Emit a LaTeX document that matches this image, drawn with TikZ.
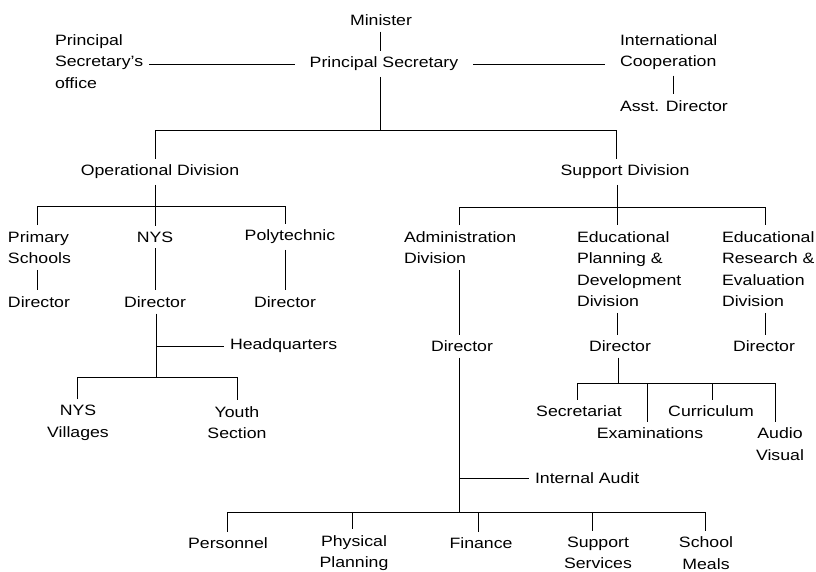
\documentclass[tikz,border=0pt]{standalone}
\usepackage{fontspec}
\setmainfont{Liberation Sans}[FakeStretch=1.18]
\begin{document}
\begin{tikzpicture}[x=1pt,y=-1pt,
  lbl/.style={inner sep=3pt, outer sep=3pt, font=\fontsize{15}{21.5}\selectfont},
  lblL/.style={lbl, align=left, anchor=west},
  lblC/.style={lbl, align=center},
  conn/.style={draw=black, line width=0.8pt}]
\useasboundingbox (0,0) rectangle (816,571);
% top level
\node[lblC] (min) at (381,20) {Minister};
\node[lblC] (ps) at (384,64) {Principal Secretary};
\node[lblL] (pso) at (49,61.5) {Principal\\Secretary's\\office};
\node[lblL] (ic) at (614,52) {International\\Cooperation};
\node[lblL] (asd) at (614,106) {Asst. Director};
% divisions
\node[lblC] (opd) at (160,172) {Operational Division};
\node[lblC] (spd) at (625,172) {Support Division};
% operational
\node[lblL] (ps1) at (2,247.5) {Primary\\Schools};
\node[lblC] (nys) at (155,237) {NYS};
\node[lblC] (poly) at (290,237) {Polytechnic};
\node[lblL] (dir1) at (2,302) {Director};
\node[lblC] (dir2) at (155,302) {Director};
\node[lblC] (dir3) at (285,302) {Director};
\node[lblL] (hq) at (224,346) {Headquarters};
\node[lblC] (nysv) at (78,423) {NYS\\Villages};
\node[lblC] (ys) at (237,422.5) {Youth\\Section};
% support
\node[lblL] (adm) at (398,247.5) {Administration\\Division};
\node[lblL] (epd) at (571,269) {Educational\\Planning \&\\Development\\Division};
\node[lblL] (erd) at (716,269) {Educational\\Research \&\\Evaluation\\Division};
\node[lblC] (dadm) at (462,346) {Director};
\node[lblC] (dep) at (620,346) {Director};
\node[lblC] (der) at (764,346) {Director};
\node[lblC] (sec) at (579,411) {Secretariat};
\node[lblC] (cur) at (711,411) {Curriculum};
\node[lblC] (exa) at (650,433) {Examinations};
\node[lblC] (av) at (780,444) {Audio\\Visual};
\node[lblL] (ia) at (529,478) {Internal Audit};
\node[lblC] (per) at (228,543) {Personnel};
\node[lblC] (phy) at (354,553) {Physical\\Planning};
\node[lblC] (fin) at (481,543) {Finance};
\node[lblC] (sup) at (598,553) {Support\\Services};
\node[lblC] (sch) at (706,553) {School\\Meals};
% junction coordinates
\coordinate (t1) at (380,130);
\coordinate (bL) at (155,130);
\coordinate (bR) at (616,130);
\coordinate (jo) at (155,206);
\coordinate (oa) at (37,206);
\coordinate (oc) at (285,206);
\coordinate (jn) at (156,377);
\coordinate (na) at (77,377);
\coordinate (nb) at (237,377);
\coordinate (js) at (617,207);
\coordinate (sa) at (459,207);
\coordinate (sc) at (765,207);
\coordinate (je) at (618,383);
\coordinate (ea) at (577,383);
\coordinate (eb) at (647,383);
\coordinate (ec) at (712,383);
\coordinate (ed) at (775,383);
\coordinate (ja) at (459,512);
\coordinate (ka) at (227,512);
\coordinate (kb) at (352,512);
\coordinate (kc) at (478,512);
\coordinate (kd) at (592,512);
\coordinate (ke) at (705,512);
\coordinate (icx) at (673,0);
% top connectors
\draw[conn] (min.south -| t1) -- (ps.north -| t1);
\draw[conn] (ps.south -| t1) -- (t1);
\draw[conn, shorten >=9pt] (pso.east |- ps.west) -- (ps.west);
\draw[conn, shorten <=9pt, shorten >=9pt] (ps.east) -- (ic.west |- ps.east);
\draw[conn] (ic.south -| icx) -- (asd.north -| icx);
\draw[conn] (opd.north -| bL) -- (bL) -- (bR) -- (spd.north -| bR);
% operational
\draw[conn] (opd.south -| jo) -- (jo);
\draw[conn] (ps1.north -| oa) -- (oa) -- (oc) -- (poly.north -| oc);
\draw[conn] (jo) -- (nys.north -| jo);
\draw[conn] (ps1.south -| oa) -- (dir1.north -| oa);
\draw[conn] (nys.south -| jo) -- (dir2.north -| jo);
\draw[conn] (poly.south -| oc) -- (dir3.north -| oc);
\draw[conn] (dir2.south -| jn) -- (jn);
\draw[conn] (jn |- hq.west) -- (hq.west);
\draw[conn] (nysv.north -| na) -- (na) -- (nb) -- (ys.north -| nb);
% support
\draw[conn] (spd.south -| js) -- (js);
\draw[conn] (adm.north -| sa) -- (sa) -- (sc) -- (erd.north -| sc);
\draw[conn] (js) -- (epd.north -| js);
\draw[conn] (adm.south -| ja) -- (dadm.north -| ja);
\draw[conn] (epd.south -| js) -- (dep.north -| js);
\draw[conn] (erd.south -| sc) -- (der.north -| sc);
\draw[conn] (dep.south -| je) -- (je);
\draw[conn] (sec.north -| ea) -- (ea) -- (ed) -- (av.north -| ed);
\draw[conn] (eb) -- (exa.north -| eb);
\draw[conn] (ec) -- (cur.north -| ec);
\draw[conn] (dadm.south -| ja) -- (ja);
\draw[conn] (ja |- ia.west) -- (ia.west);
\draw[conn] (per.north -| ka) -- (ka) -- (ke) -- (sch.north -| ke);
\draw[conn] (kb) -- (phy.north -| kb);
\draw[conn] (kc) -- (fin.north -| kc);
\draw[conn] (kd) -- (sup.north -| kd);
\end{tikzpicture}
\end{document}
